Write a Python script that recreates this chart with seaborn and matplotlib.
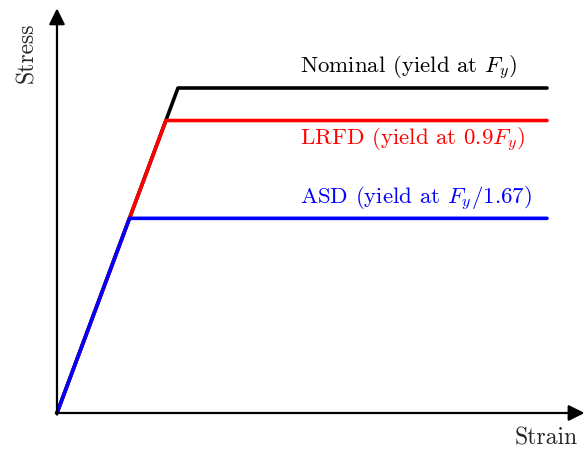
import pandas as pd
import matplotlib
import matplotlib.pyplot as plt
import seaborn as sns

sns.set_style("white")
plt.rcParams['font.family'] = 'serif'
plt.rcParams['font.serif'] = ['cmr10']
plt.rcParams['mathtext.fontset'] = 'cm'
plt.rcParams['axes.unicode_minus'] = False

# stress-strain data (stress normalised by Fy, E = 1)
curvas = ["Nominal", "LRFD", "ASD"]
tensao_escoamento = [1.0, 0.9, 0.599]
deformacao_escoamento = [1.0, 0.9, 0.599]
deformacao_final = 4.05
cores = ["black", "red", "blue"]
rotulos = [r"Nominal (yield at $F_y$)",
           r"LRFD (yield at $0.9F_y$)",
           r"ASD (yield at $F_y/1.67$)"]
rotulo_y = [1.062, 0.84, 0.66]

linhas = []
for nome, fy, ey in zip(curvas, tensao_escoamento, deformacao_escoamento):
    linhas.append(pd.DataFrame({
        "curva": nome,
        "strain": [0.0, ey, deformacao_final],
        "stress": [0.0, fy, fy],
    }))
df = pd.concat(linhas, ignore_index=True)

fig = plt.figure(figsize=(5.85, 4.49), dpi=100)
ax = fig.add_axes([0, 0, 1, 1])

for nome, cor in zip(curvas, cores):
    sns.lineplot(data=df[df["curva"] == nome], x="strain", y="stress",
                 sort=False, color=cor, lw=2.6, ax=ax, legend=False)

for texto, y, cor in zip(rotulos, rotulo_y, cores):
    ax.text(2.01, y, texto, color=cor, fontsize=16.5, va='center', ha='left')

# axis arrows
seta = dict(arrowstyle='-|>', lw=1.6, color='black', mutation_scale=24,
            shrinkA=0, shrinkB=0)
ax.annotate('', xy=(4.36, 0), xytext=(-0.01, 0), arrowprops=seta)
ax.annotate('', xy=(0, 1.245), xytext=(0, -0.005), arrowprops=seta)

ax.text(-0.25, 1.108, "Stress", rotation=90, fontsize=17, ha='center', va='center')
ax.text(4.30, -0.077, "Strain", fontsize=17, ha='right', va='center')

ax.set_xlim(-0.471, 4.364)
ax.set_ylim(-0.1108, 1.2708)
ax.set_xlabel('')
ax.set_ylabel('')
ax.set_xticks([])
ax.set_yticks([])
sns.despine(ax=ax, left=True, bottom=True)

plt.savefig("out.png", dpi=100)
